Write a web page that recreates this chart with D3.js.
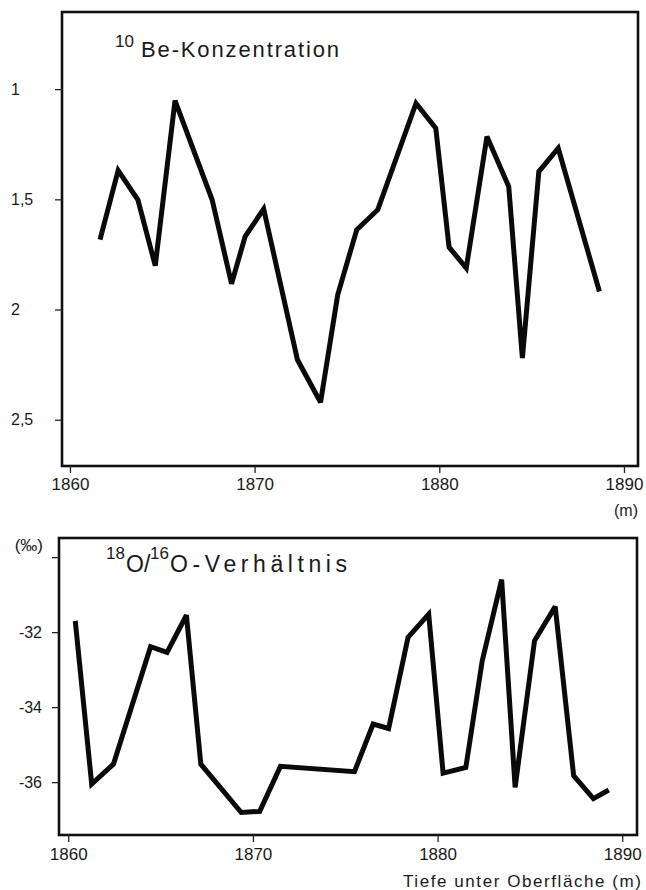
<!DOCTYPE html>
<html>
<head>
<meta charset="utf-8">
<script src="https://cdn.jsdelivr.net/npm/d3@7/dist/d3.min.js"></script>
<style>
  html, body { margin: 0; padding: 0; background: #fff; }
  svg { display: block; }
  text { font-family: "Liberation Sans", Arial, Helvetica, sans-serif; fill: #1a1a1a; }
</style>
</head>
<body>
<svg id="chart" width="646" height="890"></svg>
<script>
// ---------- data ----------
const beDepth = [1861.63, 1862.61, 1863.68, 1864.62, 1865.69, 1867.70, 1868.75, 1869.49,
                 1870.49, 1872.32, 1873.57, 1874.50, 1875.53, 1876.67, 1878.74, 1879.81,
                 1880.53, 1881.46, 1882.58, 1883.76, 1884.50, 1885.39, 1886.44, 1888.67];
const beValue = [1.683, 1.369, 1.502, 1.801, 1.052, 1.502, 1.883, 1.668,
                 1.544, 2.228, 2.421, 1.933, 1.638, 1.547, 1.064, 1.177,
                 1.717, 1.812, 1.215, 1.442, 2.220, 1.374, 1.268, 1.918];

const oDepth = [1860.38, 1861.27, 1862.45, 1864.46, 1865.35, 1866.40, 1867.18, 1869.37,
                1870.37, 1871.49, 1875.50, 1876.51, 1877.35, 1878.40, 1879.52, 1880.30,
                1881.53, 1882.42, 1883.47, 1884.20, 1885.25, 1886.37, 1887.37, 1888.44, 1889.27];
const oValue = [-31.70, -36.05, -35.52, -32.39, -32.54, -31.55, -35.52, -36.81,
                -36.78, -35.58, -35.72, -34.45, -34.57, -32.14, -31.52, -35.76,
                -35.61, -32.76, -30.60, -36.14, -32.23, -31.32, -35.83, -36.44, -36.21];

const xTicks = [1860, 1870, 1880, 1890];
const xTickLabels = ["1860", "1870", "1880", "1890"];
const beTicks = [1, 1.5, 2, 2.5];
const beTickLabels = ["1", "1,5", "2", "2,5"];
const oTicks = [-30, -32, -34, -36];
const oTickLabels = ["", "-32", "-34", "-36"];

// ---------- drawing ----------
const svg = d3.select("#chart");

function panel(opts) {
  const x = d3.scaleLinear().domain(opts.xDomain).range(opts.xRange);
  const y = d3.scaleLinear().domain(opts.yDomain).range(opts.yRange);
  const g = svg.append("g");

  g.append("rect")
    .attr("x", opts.xRange[0]).attr("y", opts.yRange[0])
    .attr("width", opts.xRange[1] - opts.xRange[0])
    .attr("height", opts.yRange[1] - opts.yRange[0])
    .attr("fill", "none").attr("stroke", "#111").attr("stroke-width", 2.6);

  const xa = g.append("g")
    .attr("transform", `translate(0,${opts.yRange[1]})`)
    .call(d3.axisBottom(x).tickValues(xTicks).tickSize(7).tickPadding(opts.xPad)
      .tickFormat((d, i) => xTickLabels[i]));
  xa.select(".domain").remove();
  xa.selectAll("line").attr("stroke", "#222").attr("stroke-width", 1.3);
  xa.selectAll("text").attr("font-size", 17).attr("fill", "#1a1a1a")
    .attr("font-family", null);

  const ya = g.append("g")
    .attr("transform", `translate(${opts.xRange[0]},0)`)
    .call(d3.axisLeft(y).tickValues(opts.yTicks).tickSize(7)
      .tickFormat((d, i) => opts.yLabels[i]));
  ya.select(".domain").remove();
  ya.selectAll("line").attr("stroke", "#222").attr("stroke-width", 1.3);
  ya.selectAll("text").attr("font-size", 16).attr("fill", "#1a1a1a")
    .attr("font-family", null)
    .attr("text-anchor", opts.yAnchor)
    .attr("x", opts.yLabelX - opts.xRange[0]);

  const pts = opts.xs.map((d, i) => [d, opts.ys[i]]);
  g.append("path")
    .datum(pts)
    .attr("fill", "none")
    .attr("stroke", "#0a0a0a")
    .attr("stroke-width", 5)
    .attr("stroke-linejoin", "miter")
    .attr("stroke-miterlimit", 3)
    .attr("stroke-linecap", "butt")
    .attr("d", d3.line().x(d => x(d[0])).y(d => y(d[1])));

  return { x, y, g };
}

const topPanel = panel({
  xDomain: [1859.57, 1890.76], xRange: [62, 638],
  yDomain: [0.65, 2.71], yRange: [12, 466],
  yTicks: beTicks, yLabels: beTickLabels, yAnchor: "start", yLabelX: 11,
  xs: beDepth, ys: beValue, xPad: 5
});

const botPanel = panel({
  xDomain: [1859.5, 1890.8], xRange: [59, 637],
  yDomain: [-29.49, -37.41], yRange: [538, 835],
  yTicks: oTicks, yLabels: oTickLabels, yAnchor: "end", yLabelX: 42,
  xs: oDepth, ys: oValue, xPad: 6
});

// titles
topPanel.g.append("text").attr("x", 115).attr("y", 47).attr("font-size", 17).text("10");
topPanel.g.append("text").attr("x", 141).attr("y", 57).attr("font-size", 22)
  .attr("textLength", 198).attr("lengthAdjust", "spacing").text("Be-Konzentration");

botPanel.g.append("text").attr("x", 106).attr("y", 559).attr("font-size", 17).text("18");
botPanel.g.append("text").attr("x", 126).attr("y", 572).attr("font-size", 23)
  .text("O/");
botPanel.g.append("text").attr("x", 150).attr("y", 559).attr("font-size", 17).text("16");
botPanel.g.append("text").attr("x", 170).attr("y", 572).attr("font-size", 23)
  .attr("textLength", 177).attr("lengthAdjust", "spacing").text("O-Verhältnis");

// unit labels
topPanel.g.append("text").attr("x", topPanel.x(1890) + 2).attr("y", 516)
  .attr("font-size", 16).attr("text-anchor", "middle").text("(m)");
botPanel.g.append("text").attr("x", 43).attr("y", 551)
  .attr("font-size", 17).attr("text-anchor", "end").text("(‰)");
botPanel.g.append("text").attr("x", 641).attr("y", 887)
  .attr("font-size", 17).attr("text-anchor", "end")
  .attr("textLength", 238).attr("lengthAdjust", "spacing")
  .text("Tiefe unter Oberfläche  (m)");
</script>
</body>
</html>
